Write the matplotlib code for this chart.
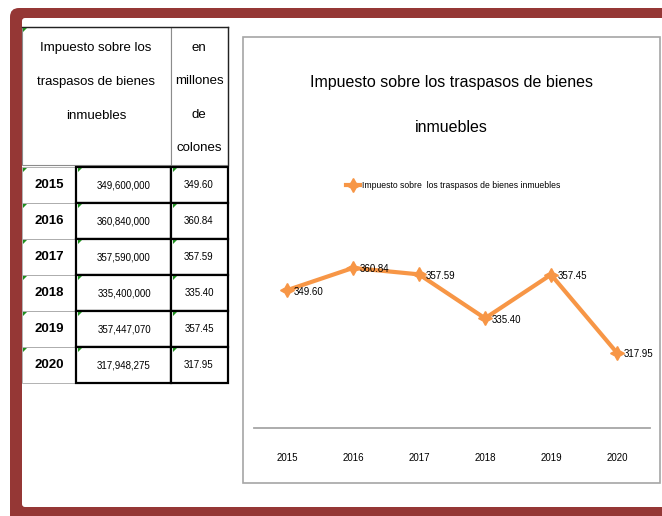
import matplotlib.pyplot as plt
from matplotlib.patches import Rectangle, FancyBboxPatch, Polygon

plt.rcParams['font.family'] = ['Liberation Sans Narrow', 'Liberation Sans', 'DejaVu Sans']

anios = [2015, 2016, 2017, 2018, 2019, 2020]
montos = [349600000, 360840000, 357590000, 335400000, 357447070, 317948275]
millones = [349.60, 360.84, 357.59, 335.40, 357.45, 317.95]

titulo = ['Impuesto sobre los traspasos de bienes', 'inmuebles']
serie = 'Impuesto sobre  los traspasos de bienes inmuebles'
enc1 = 'Impuesto sobre los\ntraspasos de bienes\ninmuebles'
enc2 = 'en\nmillones\nde\ncolones'

W, H = 662, 516
fig = plt.figure(figsize=(W / 100, H / 100), dpi=100)
bg = fig.add_axes([0, 0, 1, 1])
bg.set_xlim(0, W)
bg.set_ylim(H, 0)
bg.axis('off')

# marco rojo
rojo = '#953735'
bg.add_patch(FancyBboxPatch((10, 8), 720, 560, boxstyle='round,pad=0,rounding_size=9',
                            fc=rojo, ec='none'))
bg.add_patch(FancyBboxPatch((22, 18), 700, 489, boxstyle='round,pad=0,rounding_size=3',
                            fc='white', ec='none'))

verde = '#1f8f1f'


def triangulo(x, y):
    bg.add_patch(Polygon([(x + 1, y + 1), (x + 5, y + 1), (x + 1, y + 5)], closed=True,
                         fc=verde, ec='none', zorder=5))


# encabezado de la tabla
bg.add_patch(Rectangle((22, 27), 149, 138, fc='white', ec='#8c8c8c', lw=0.8))
bg.add_patch(Rectangle((171, 27), 57, 138, fc='white', ec='#8c8c8c', lw=0.8))
bg.plot([22, 228], [27, 27], color='#222222', lw=1)
bg.plot([228, 228], [27, 165], color='#222222', lw=1)
triangulo(22, 27)
bg.text(96, 82, enc1, ha='center', va='center', fontsize=9.5, linespacing=3.4)
bg.text(199, 98, enc2, ha='center', va='center', fontsize=9.5, linespacing=3.4)

# filas
for i, (a, m, v) in enumerate(zip(anios, montos, millones)):
    top = 167 + i * 36
    bg.add_patch(Rectangle((22, top), 54, 36, fc='white', ec='#a6a6a6', lw=0.6))
    bg.add_patch(Rectangle((76, top), 95, 36, fc='white', ec='black', lw=1.6))
    bg.add_patch(Rectangle((171, top), 57, 36, fc='white', ec='black', lw=1.6))
    for x in (22, 77, 172):
        triangulo(x, top)
    bg.text(49, top + 18, str(a), ha='center', va='center', fontsize=9.5, fontweight='bold')
    bg.text(124, top + 18, f'{m:,}', ha='center', va='center', fontsize=7)
    bg.text(199, top + 18, f'{v:.2f}', ha='center', va='center', fontsize=7)

# caja del grafico
bg.add_patch(Rectangle((243, 37), 417, 446, fc='white', ec='#a6a6a6', lw=1.2))
bg.text(451, 83, titulo[0], ha='center', va='center', fontsize=11.5)
bg.text(451, 128, titulo[1], ha='center', va='center', fontsize=11.5)

ax = fig.add_axes([254 / W, (H - 428) / H, 396 / W, 198 / H])
ax.patch.set_alpha(0)
naranja = '#F79646'
x = list(range(len(anios)))
ax.plot(x, millones, color=naranja, lw=3, marker=(4, 1, 0), ms=10, label=serie)
for xi, v in zip(x, millones):
    ax.annotate(f'{v:.2f}', (xi, v), xytext=(5, -1), textcoords='offset points',
                ha='left', va='center', fontsize=7)
ax.set_xlim(-0.5, 5.5)
ax.set_ylim(280, 380)
ax.set_xticks(x)
ax.set_xticklabels(anios)
ax.set_yticks([])
ax.tick_params(length=0, pad=18, labelsize=7)
for s in ('top', 'left', 'right'):
    ax.spines[s].set_visible(False)
ax.spines['bottom'].set_color('#a6a6a6')
ax.spines['bottom'].set_linewidth(1.3)
ax.legend(loc='center', bbox_to_anchor=(453 / W, 1 - 186 / H), bbox_transform=fig.transFigure,
          frameon=False, fontsize=6.2, handlelength=1.6, handletextpad=0.2)

fig.savefig('out.png', dpi=100)
